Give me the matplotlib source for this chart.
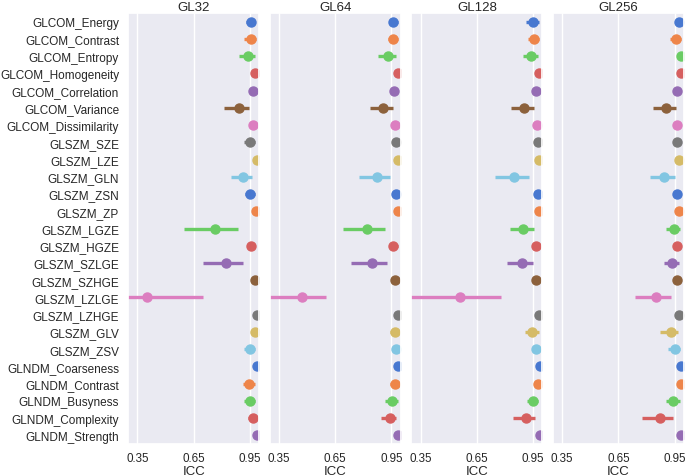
import numpy as np
import matplotlib.pyplot as plt
import seaborn as sns

sns.set_theme(style="darkgrid")
plt.rcParams['font.family'] = ['Liberation Sans', 'DejaVu Sans']

features = ["GLCOM_Energy", "GLCOM_Contrast", "GLCOM_Entropy", "GLCOM_Homogeneity",
            "GLCOM_Correlation", "GLCOM_Variance", "GLCOM_Dissimilarity",
            "GLSZM_SZE", "GLSZM_LZE", "GLSZM_GLN", "GLSZM_ZSN", "GLSZM_ZP",
            "GLSZM_LGZE", "GLSZM_HGZE", "GLSZM_SZLGE", "GLSZM_SZHGE",
            "GLSZM_LZLGE", "GLSZM_LZHGE", "GLSZM_GLV", "GLSZM_ZSV",
            "GLNDM_Coarseness", "GLNDM_Contrast", "GLNDM_Busyness",
            "GLNDM_Complexity", "GLNDM_Strength"]

panels = ["GL32", "GL64", "GL128", "GL256"]

# ICC point estimates and 95% CI
icc_gl32 = [0.954, 0.954, 0.940, 0.980, 0.966, 0.891, 0.966, 0.950, 0.988, 0.913,
            0.950, 0.984, 0.766, 0.958, 0.823, 0.975, 0.402, 0.986, 0.979, 0.950,
            0.986, 0.948, 0.950, 0.966, 0.986]
lo_gl32 = [0.930, 0.920, 0.891, 0.972, 0.950, 0.814, 0.955, 0.920, 0.982, 0.850,
           0.925, 0.978, 0.599, 0.935, 0.701, 0.966, 0.280, 0.980, 0.970, 0.920,
           0.980, 0.912, 0.918, 0.942, 0.980]
hi_gl32 = [0.980, 0.985, 0.975, 0.988, 0.982, 0.948, 0.980, 0.978, 0.994, 0.961,
           0.977, 0.990, 0.886, 0.980, 0.916, 0.984, 0.699, 0.992, 0.988, 0.978,
           0.992, 0.978, 0.978, 0.985, 0.992]

icc_gl64 = [0.961, 0.960, 0.933, 0.986, 0.965, 0.906, 0.968, 0.974, 0.986, 0.871,
            0.972, 0.986, 0.822, 0.961, 0.848, 0.968, 0.470, 0.983, 0.968, 0.975,
            0.986, 0.968, 0.954, 0.940, 0.986]
lo_gl64 = [0.936, 0.930, 0.879, 0.980, 0.945, 0.834, 0.955, 0.962, 0.980, 0.778,
           0.960, 0.980, 0.694, 0.935, 0.735, 0.952, 0.280, 0.976, 0.945, 0.962,
           0.980, 0.945, 0.915, 0.897, 0.980]
hi_gl64 = [0.986, 0.985, 0.972, 0.992, 0.985, 0.960, 0.980, 0.985, 0.992, 0.940,
           0.984, 0.992, 0.918, 0.985, 0.929, 0.982, 0.601, 0.990, 0.988, 0.986,
           0.992, 0.988, 0.983, 0.976, 0.992]

icc_gl128 = [0.950, 0.954, 0.940, 0.984, 0.967, 0.902, 0.970, 0.976, 0.984, 0.850,
             0.976, 0.984, 0.898, 0.967, 0.891, 0.967, 0.558, 0.981, 0.945, 0.967,
             0.988, 0.977, 0.949, 0.913, 0.988]
lo_gl128 = [0.913, 0.925, 0.898, 0.978, 0.950, 0.832, 0.958, 0.966, 0.978, 0.746,
            0.962, 0.978, 0.827, 0.945, 0.811, 0.945, 0.280, 0.974, 0.906, 0.945,
            0.982, 0.968, 0.918, 0.843, 0.982]
hi_gl128 = [0.981, 0.984, 0.976, 0.990, 0.985, 0.956, 0.982, 0.985, 0.990, 0.929,
            0.986, 0.990, 0.954, 0.985, 0.950, 0.985, 0.778, 0.988, 0.981, 0.985,
            0.994, 0.986, 0.978, 0.959, 0.994]

icc_gl256 = [0.974, 0.956, 0.983, 0.983, 0.961, 0.904, 0.965, 0.965, 0.976, 0.895,
             0.961, 0.974, 0.945, 0.965, 0.938, 0.965, 0.848, 0.974, 0.929, 0.950,
             0.983, 0.983, 0.943, 0.870, 0.986]
lo_gl256 = [0.966, 0.925, 0.976, 0.976, 0.942, 0.832, 0.952, 0.945, 0.968, 0.820,
            0.940, 0.966, 0.903, 0.952, 0.891, 0.945, 0.737, 0.966, 0.874, 0.913,
            0.976, 0.976, 0.903, 0.777, 0.980]
hi_gl256 = [0.982, 0.983, 0.990, 0.990, 0.982, 0.958, 0.978, 0.985, 0.984, 0.952,
            0.982, 0.982, 0.978, 0.978, 0.974, 0.982, 0.929, 0.982, 0.968, 0.980,
            0.990, 0.990, 0.978, 0.940, 0.992]

icc_all = [icc_gl32, icc_gl64, icc_gl128, icc_gl256]
lo_all = [lo_gl32, lo_gl64, lo_gl128, lo_gl256]
hi_all = [hi_gl32, hi_gl64, hi_gl128, hi_gl256]

colors = sns.color_palette("muted", 10)

fig, axes = plt.subplots(1, 4, figsize=(6.85, 4.77), dpi=100, sharey=True)
fig.subplots_adjust(left=0.187, right=0.9985, bottom=0.067, top=0.9706, wspace=0.08)

y = np.arange(len(features))
for ax, name, icc, lo, hi in zip(axes, panels, icc_all, lo_all, hi_all):
    for i in range(len(features)):
        c = colors[i % 10]
        ax.plot([lo[i], hi[i]], [y[i], y[i]], color=c, lw=2.4, solid_capstyle='butt')
        ax.plot(icc[i], y[i], 'o', color=c, ms=6.5)
    ax.set_xlim(0.30, 1.0)
    ax.set_ylim(len(features) - 0.5, -0.5)
    ax.set_xticks([0.35, 0.65, 0.95])
    ax.set_xticklabels(["0.35", "0.65", "0.95"])
    ax.yaxis.grid(False)
    ax.set_title(name, fontsize=9.5, pad=2)
    ax.set_xlabel("ICC", fontsize=9.5, labelpad=0.5)
    ax.tick_params(axis='x', labelsize=8.4, length=0, pad=6)

axes[0].set_yticks(y)
axes[0].set_yticklabels(features)
axes[0].tick_params(axis='y', labelsize=8.5, length=0, pad=6.5)

plt.savefig("out.png", dpi=100)
